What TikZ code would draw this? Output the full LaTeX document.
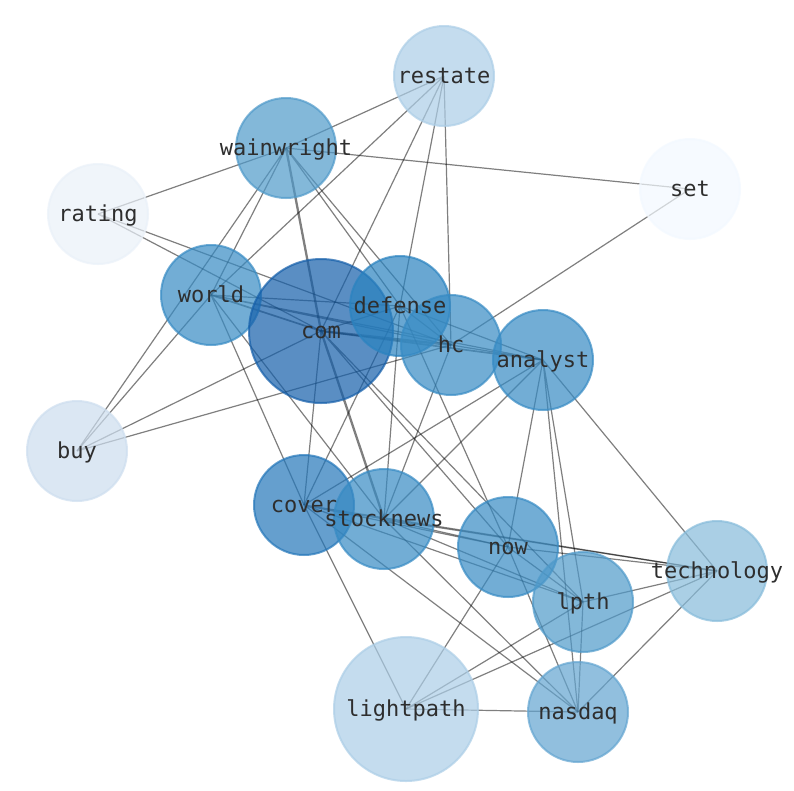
\documentclass[tikz,border=0pt]{standalone}
\usepackage{fontspec}
\setmonofont{DejaVu Sans Mono}
\usetikzlibrary{backgrounds}
\definecolor{labelc}{HTML}{2E2E2E}
\definecolor{blA}{HTML}{F3F9FF}
\definecolor{blB}{HTML}{EAF1F9}
\definecolor{blC}{HTML}{CDDEEF}
\definecolor{blD}{HTML}{ACCEE7}
\definecolor{blE}{HTML}{87BCDB}
\definecolor{blF}{HTML}{63A5D1}
\definecolor{blG}{HTML}{4F9ACA}
\definecolor{blH}{HTML}{378BC4}
\definecolor{blI}{HTML}{2A83C0}
\definecolor{blJ}{HTML}{2477BA}
\definecolor{blK}{HTML}{155FAA}
\tikzset{
  eline/.style={draw=black, draw opacity=0.5, line width=1.2pt},
  mline/.style={eline, line width=1.7pt},
  bline/.style={eline, line width=2.3pt},
  vtx/.style={circle, inner sep=0pt, minimum size=100pt, line width=2pt,
    fill=#1, draw=#1, fill opacity=0.7, draw opacity=0.7},
  bigvtx/.style={vtx=#1, minimum size=144pt},
  lbl/.style={text=labelc, font=\ttfamily\fontsize{22}{26}\selectfont,
    inner sep=0pt, text height=14pt, text depth=0pt}
}
\begin{document}
\begin{tikzpicture}[x=1pt, y=-1pt]
  \useasboundingbox (0,0) rectangle (794,790);

  \node[vtx=blD] (restate) at (444,76) {};
  \node[vtx=blG] (wainwright) at (286,148) {};
  \node[vtx=blA] (set) at (690,189) {};
  \node[vtx=blB] (rating) at (98,214) {};
  \node[vtx=blH] (world) at (211,295) {};
  \node[bigvtx=blK] (com) at (321,331) {};
  \node[vtx=blI] (defense) at (400,306) {};
  \node[vtx=blH] (hc) at (451,345) {};
  \node[vtx=blH] (analyst) at (543,360) {};
  \node[vtx=blC] (buy) at (77,451) {};
  \node[vtx=blJ] (cover) at (304,505) {};
  \node[vtx=blH] (stocknews) at (384,519) {};
  \node[vtx=blH] (now) at (508,547) {};
  \node[vtx=blE] (technology) at (717,571) {};
  \node[vtx=blG] (lpth) at (583,602) {};
  \node[bigvtx=blD] (lightpath) at (406,709) {};
  \node[vtx=blF] (nasdaq) at (578,712) {};

  \begin{scope}[on background layer]
    \fill[white] (0,0) rectangle (794,790);
    \draw[eline] (restate.center) -- (wainwright.center) (restate.center) -- (world.center)
      (restate.center) -- (com.center) (restate.center) -- (defense.center)
      (restate.center) -- (hc.center);
    \draw[eline] (wainwright.center) -- (set.center) (wainwright.center) -- (rating.center)
      (wainwright.center) -- (world.center) (wainwright.center) -- (buy.center)
      (wainwright.center) -- (defense.center) (wainwright.center) -- (hc.center);
    \draw[bline] (wainwright.center) -- (com.center);
    \draw[eline] (set.center) -- (hc.center);
    \draw[eline] (rating.center) -- (com.center) (rating.center) -- (hc.center);
    \draw[eline] (buy.center) -- (world.center) (buy.center) -- (com.center)
      (buy.center) -- (hc.center);
    \draw[eline] (world.center) -- (defense.center) (world.center) -- (hc.center)
      (world.center) -- (analyst.center) (world.center) -- (stocknews.center)
      (world.center) -- (cover.center);
    \draw[mline] (world.center) -- (com.center);
    \draw[eline] (com.center) -- (defense.center) (com.center) -- (cover.center)
      (com.center) -- (now.center) (com.center) -- (lpth.center);
    \draw[bline] (com.center) -- (hc.center) (com.center) -- (stocknews.center);
    \draw[mline] (com.center) -- (analyst.center);
    \draw[eline] (defense.center) -- (hc.center) (defense.center) -- (analyst.center)
      (defense.center) -- (cover.center) (defense.center) -- (stocknews.center)
      (defense.center) -- (now.center);
    \draw[eline] (hc.center) -- (analyst.center) (hc.center) -- (stocknews.center);
    \draw[eline] (analyst.center) -- (stocknews.center) (analyst.center) -- (cover.center)
      (analyst.center) -- (now.center) (analyst.center) -- (lpth.center)
      (analyst.center) -- (nasdaq.center) (analyst.center) -- (technology.center);
    \draw[eline] (cover.center) -- (stocknews.center) (cover.center) -- (now.center)
      (cover.center) -- (technology.center) (cover.center) -- (lpth.center)
      (cover.center) -- (nasdaq.center) (cover.center) -- (lightpath.center);
    \draw[eline] (stocknews.center) -- (now.center) (stocknews.center) -- (technology.center)
      (stocknews.center) -- (lpth.center) (stocknews.center) -- (nasdaq.center);
    \draw[eline] (now.center) -- (technology.center) (now.center) -- (lpth.center)
      (now.center) -- (lightpath.center) (now.center) -- (nasdaq.center);
    \draw[eline] (technology.center) -- (lpth.center) (technology.center) -- (lightpath.center)
      (technology.center) -- (nasdaq.center);
    \draw[eline] (lpth.center) -- (lightpath.center) (lpth.center) -- (nasdaq.center);
    \draw[eline] (lightpath.center) -- (nasdaq.center);
  \end{scope}

  \node[lbl] (restate-l) at (restate) {restate};
  \node[lbl] (wainwright-l) at (wainwright) {wainwright};
  \node[lbl] (set-l) at (set) {set};
  \node[lbl] (rating-l) at (rating) {rating};
  \node[lbl] (world-l) at (world) {world};
  \node[lbl] (com-l) at (com) {com};
  \node[lbl] (defense-l) at (defense) {defense};
  \node[lbl] (hc-l) at (hc) {hc};
  \node[lbl] (analyst-l) at (analyst) {analyst};
  \node[lbl] (buy-l) at (buy) {buy};
  \node[lbl] (cover-l) at (cover) {cover};
  \node[lbl] (stocknews-l) at (stocknews) {stocknews};
  \node[lbl] (now-l) at (now) {now};
  \node[lbl] (technology-l) at (technology) {technology};
  \node[lbl] (lpth-l) at (lpth) {lpth};
  \node[lbl] (lightpath-l) at (lightpath) {lightpath};
  \node[lbl] (nasdaq-l) at (nasdaq) {nasdaq};
\end{tikzpicture}
\end{document}
